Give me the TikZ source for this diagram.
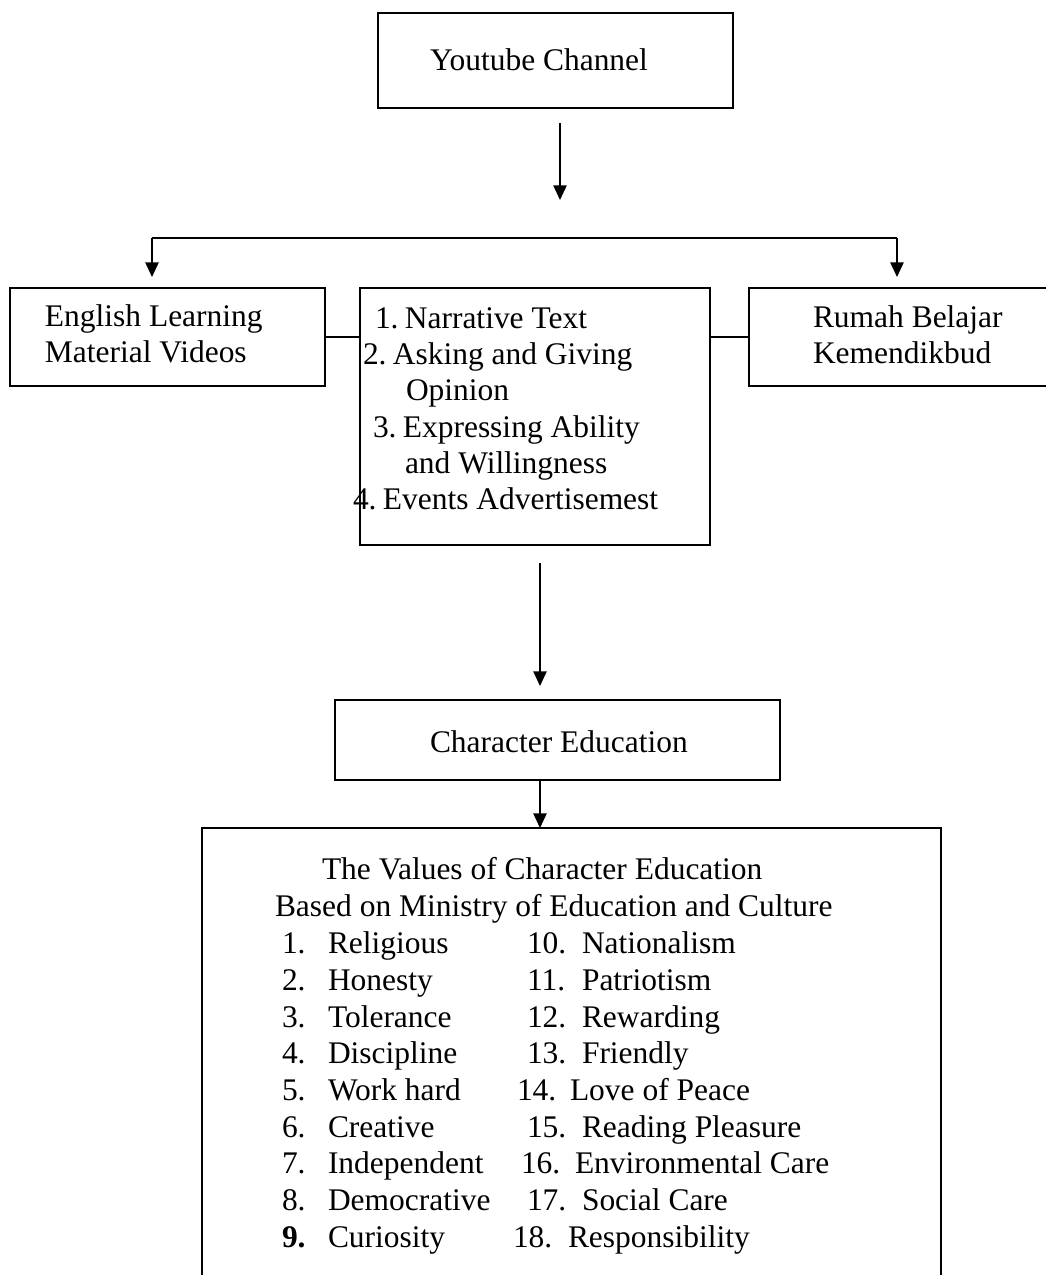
\documentclass[tikz,border=0pt]{standalone}
\usepackage{fontspec}
\setmainfont{Liberation Serif}
\usetikzlibrary{arrows.meta}
\begin{document}
\begin{tikzpicture}[x=0.75pt,y=-0.75pt,
  every node/.style={font=\fontsize{23.6}{28}\selectfont, inner sep=0pt, outer sep=0pt},
  box/.style={draw, line width=1.1pt, anchor=north west},
  txt/.style={anchor=base west},
  arr/.style={line width=1.1pt, -{Triangle[length=11pt,width=10pt]}},
  ln/.style={line width=1.1pt}]
\useasboundingbox (0,0) rectangle (1046,1275);
% boxes
\node[box, minimum width={355*0.75pt}, minimum height={95*0.75pt}] (yt) at (378,13) {};
\node[box, minimum width={315*0.75pt}, minimum height={98*0.75pt}] (elm) at (10,288) {};
\node[box, minimum width={350*0.75pt}, minimum height={257*0.75pt}] (mid) at (360,288) {};
\node[box, minimum width={310*0.75pt}, minimum height={98*0.75pt}] (rb) at (749,288) {};
\node[box, minimum width={445*0.75pt}, minimum height={80*0.75pt}] (ce) at (335,700) {};
\coordinate (vnw) at (202,828);
\coordinate (vne) at (941,828);
\draw[ln] (202,1290) -- (vnw) -- (vne) -- (941,1290);
% texts
\node[txt] (t-yt) at (430,70) {Youtube Channel};
\node[txt] (t-elm1) at (45,326) {English Learning};
\node[txt] (t-elm2) at (45,362) {Material Videos};
\node[txt] (t-rb1) at (813,327) {Rumah Belajar};
\node[txt] (t-rb2) at (813,363) {Kemendikbud};
\node[txt] (m1) at (375,328) {1.\hspace{0.2em}Narrative Text};
\node[txt] (m2) at (363,364) {2.\hspace{0.2em}Asking and Giving};
\node[txt] (m3) at (406,400) {Opinion};
\node[txt] (m4) at (373,437) {3.\hspace{0.2em}Expressing Ability};
\node[txt] (m5) at (405,473) {and Willingness};
\node[txt] (m6) at (353,509) {4.\hspace{0.2em}Events Advertisemest};
\node[txt] (t-ce) at (430,752) {Character Education};
\node[txt] (v0) at (322,879) {The Values of Character Education};
\node[txt] (v00) at (275,916) {Based on Ministry of Education and Culture};
% list
\foreach \n/\t/\y in {1/Religious/953, 2/Honesty/990, 3/Tolerance/1027, 4/Discipline/1063, 5/Work hard/1100, 6/Creative/1137, 7/Independent/1173, 8/Democrative/1210}{
  \node[txt] (n\n) at (282,\y) {\n.};
  \node[txt] (i\n) at (328,\y) {\t};
}
\node[txt] (n9) at (282,1247) {\textbf{9.}};
\node[txt] (i9) at (328,1247) {Curiosity};
\foreach \n/\x/\tx/\t/\y in {10/527/582/Nationalism/953, 11/527/582/Patriotism/990, 12/527/582/Rewarding/1027, 13/527/582/Friendly/1063, 14/517/570/Love of Peace/1100, 15/527/582/Reading Pleasure/1137, 16/521/575/Environmental Care/1173, 17/527/582/Social Care/1210, 18/513/568/Responsibility/1247}{
  \node[txt] (n\n) at (\x,\y) {\n.};
  \node[txt] (i\n) at (\tx,\y) {\t};
}
% connectors
\coordinate (a1s) at (560,123);
\coordinate (a1e) at (560,200);
\draw[arr] (a1s) -- (a1e);
\coordinate (hl) at (152,238);
\coordinate (hr) at (897,238);
\coordinate (hle) at (152,277);
\coordinate (hre) at (897,277);
\draw[ln] (hl) -- (hr);
\draw[arr] (hl) -- (hle);
\draw[arr] (hr) -- (hre);
\draw[ln] (elm.east) -- (elm.east -| mid.west);
\draw[ln] (elm.east -| mid.east) -- (elm.east -| rb.west);
\coordinate (a2s) at (540,563);
\coordinate (a2e) at (540,686);
\draw[arr] (a2s) -- (a2e);
\coordinate (m) at (540,0);
\draw[arr] (ce.south -| m) -- (vnw -| m);
\end{tikzpicture}
\end{document}
